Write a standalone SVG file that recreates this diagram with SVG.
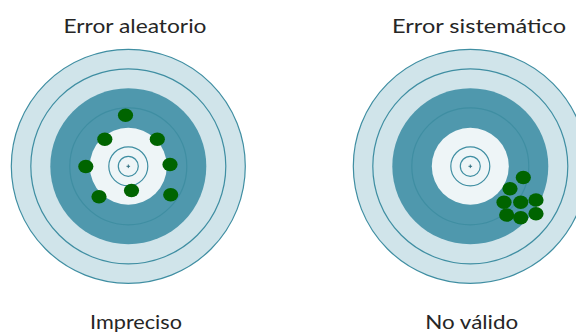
<svg xmlns="http://www.w3.org/2000/svg" xmlns:xlink="http://www.w3.org/1999/xlink" width="576" height="332" viewBox="0 0 576 332">
  <style>
    .light { fill: #d0e4ea; stroke: #3f8ea2; stroke-width: 1.2; }
    .ring { fill: none; stroke: #3f8ea2; stroke-width: 1.2; }
    .dark { fill: #4f98ad; }
    .white { fill: #eef5f7; }
    .mark { stroke: #2f6f80; stroke-width: 1; }
    .hit { fill: #006400; }
    .label { font-family: Lato, "Open Sans", sans-serif; font-size: 20px; fill: #262626; }
  </style>
  <defs>
    <!-- Target centred at the origin: rings at multiples of 19.5 -->
    <g id="target">
      <circle class="light" r="117"/>
      <circle class="ring" r="97.5"/>
      <circle class="dark" r="78"/>
      <circle class="ring" r="58.5"/>
      <circle class="white" r="38.5"/>
      <circle class="ring" r="19.5"/>
      <circle class="ring" r="10"/>
      <path class="mark" d="M-1.8 0H1.8M0 -1.8V1.8"/>
    </g>
    <ellipse id="shot" class="hit" rx="7.6" ry="6.8"/>
  </defs>

  <g id="random-error">
    <text class="label" x="135" y="33" text-anchor="middle" textLength="143" lengthAdjust="spacingAndGlyphs">Error aleatorio</text>
    <use xlink:href="#target" x="128.3" y="166.3"/>
    <use xlink:href="#shot" x="125.5" y="115.3"/>
    <use xlink:href="#shot" x="104.8" y="139.3"/>
    <use xlink:href="#shot" x="157.3" y="139.3"/>
    <use xlink:href="#shot" x="85.8" y="166.5"/>
    <use xlink:href="#shot" x="170" y="164.5"/>
    <use xlink:href="#shot" x="131.5" y="190.5"/>
    <use xlink:href="#shot" x="99" y="196.7"/>
    <use xlink:href="#shot" x="170.7" y="194.7"/>
    <text class="label" x="136" y="329" text-anchor="middle" textLength="92" lengthAdjust="spacingAndGlyphs">Impreciso</text>
  </g>

  <g id="systematic-error">
    <text class="label" x="479" y="33" text-anchor="middle" textLength="174" lengthAdjust="spacingAndGlyphs">Error sistemático</text>
    <use xlink:href="#target" x="470.3" y="166.3"/>
    <use xlink:href="#shot" x="523.3" y="177.5"/>
    <use xlink:href="#shot" x="510" y="188.7"/>
    <use xlink:href="#shot" x="504" y="202.3"/>
    <use xlink:href="#shot" x="520.7" y="202.3"/>
    <use xlink:href="#shot" x="536" y="200"/>
    <use xlink:href="#shot" x="506.7" y="215"/>
    <use xlink:href="#shot" x="520.7" y="217.7"/>
    <use xlink:href="#shot" x="536" y="213.8"/>
    <text class="label" x="471.7" y="329" text-anchor="middle" textLength="93" lengthAdjust="spacingAndGlyphs">No válido</text>
  </g>
</svg>
